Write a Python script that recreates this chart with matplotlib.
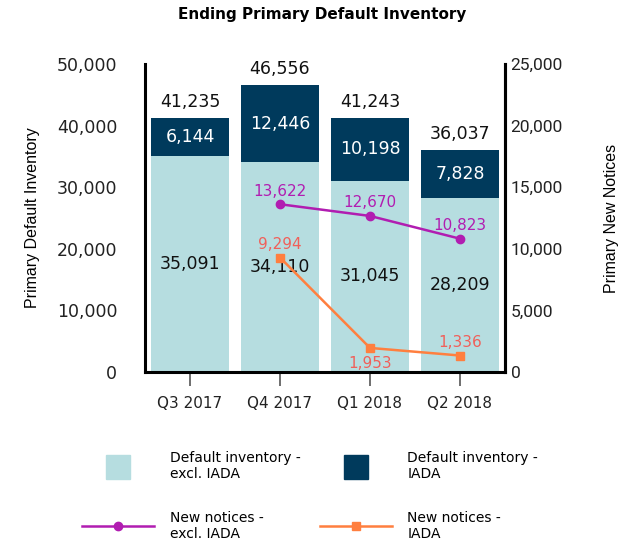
import matplotlib
matplotlib.use('Agg')
import matplotlib.pyplot as plt
from matplotlib.lines import Line2D

quarters = ['Q3 2017', 'Q4 2017', 'Q1 2018', 'Q2 2018']
inv_excl_iada = [35091, 34110, 31045, 28209]
inv_iada = [6144, 12446, 10198, 7828]
inv_total = [41235, 46556, 41243, 36037]
# new notices only reported from Q4 2017 on
notice_quarters = [1, 2, 3]
notices_excl_iada = [13622, 12670, 10823]
notices_iada = [9294, 1953, 1336]

LIGHT = '#b6dde0'
DARK = '#003a5c'
PURPLE = '#b11db1'
ORANGE = '#ff7f3f'
ORANGE_TXT = '#f0605a'

plt.rcParams['font.family'] = ['DejaVu Sans']
NARROW = ['Liberation Sans Narrow', 'Liberation Sans', 'DejaVu Sans']

fig = plt.figure(figsize=(6.31, 5.42), dpi=100)
ax = fig.add_axes([0.2298, 0.3137, 0.5705, 0.568])
x = list(range(len(quarters)))
w = 0.86

ax.bar(x, inv_excl_iada, w, color=LIGHT)
ax.bar(x, inv_iada, w, bottom=inv_excl_iada, color=DARK)

for i in x:
    ax.text(i, inv_excl_iada[i] / 2, f'{inv_excl_iada[i]:,}', ha='center', va='center',
            fontsize=12.5, color='#111111')
    ax.text(i, inv_excl_iada[i] + inv_iada[i] / 2, f'{inv_iada[i]:,}', ha='center',
            va='center', fontsize=12.5, color='white')
    ax.text(i, inv_total[i] + 1200, f'{inv_total[i]:,}', ha='center', va='bottom',
            fontsize=12.5, color='#111111')

ax.set_xlim(-0.5, 3.5)
ax.set_ylim(0, 50000)
ax.set_yticks(range(0, 50001, 10000))
ax.set_yticklabels([f'{v:,}' for v in range(0, 50001, 10000)], fontsize=12.5, color='#222222')
ax.set_xticks(x)
ax.set_xticklabels(quarters, fontsize=11, color='#222222')
ax.tick_params(axis='y', length=0, pad=20)
ax.tick_params(axis='x', length=10, width=1.2, color='#555555', pad=7)
ax.spines['top'].set_visible(False)
for s in ['left', 'bottom', 'right']:
    ax.spines[s].set_linewidth(2.2)
    ax.spines[s].set_color('black')
ax.set_ylabel('Primary Default Inventory', fontsize=11.5, family=NARROW, labelpad=12)

ax2 = ax.twinx()
ax2.set_ylim(0, 25000)
ax2.set_yticks(range(0, 25001, 5000))
ax2.set_yticklabels([f'{v:,}' for v in range(0, 25001, 5000)], fontsize=12.5,
                    family=['Roboto', 'DejaVu Sans'], color='#222222')
ax2.tick_params(axis='y', length=0, pad=4)
for s in ['top', 'left', 'bottom']:
    ax2.spines[s].set_visible(False)
ax2.spines['right'].set_linewidth(2.2)
ax2.set_ylabel('Primary New Notices', fontsize=11.5, family=NARROW, labelpad=30)

l1, = ax2.plot(notice_quarters, notices_excl_iada, color=PURPLE, lw=1.8, marker='o',
               markersize=6)
l2, = ax2.plot(notice_quarters, notices_iada, color=ORANGE, lw=1.8, marker='s',
               markersize=6)

for xi, v in zip(notice_quarters, notices_excl_iada):
    ax2.annotate(f'{v:,}', (xi, v), xytext=(0, 4), textcoords='offset points',
                 ha='center', va='bottom', fontsize=11, color=PURPLE)
iada_offsets = [4, -6, 4]
for xi, v, off in zip(notice_quarters, notices_iada, iada_offsets):
    ax2.annotate(f'{v:,}', (xi, v), xytext=(0, off), textcoords='offset points',
                 ha='center', va='bottom' if off > 0 else 'top', fontsize=11,
                 color=ORANGE_TXT)

fig.text(0.51, 0.974, 'Ending Primary Default Inventory', ha='center', va='center',
         fontsize=11, fontweight='bold')

# legend: square swatches for the bars, marker lines for the notices
sw_light = Line2D([], [], ls='none', marker='s', markersize=17, color=LIGHT)
sw_dark = Line2D([], [], ls='none', marker='s', markersize=17, color=DARK)
lg_kw = dict(frameon=False, fontsize=10, handlelength=5.2, handletextpad=1.1,
             labelspacing=2.1, loc='center left', borderaxespad=0, borderpad=0)
leg1 = fig.legend([sw_light, l1], ['Default inventory -\nexcl. IADA', 'New notices -\nexcl. IADA'],
                  bbox_to_anchor=(0.13, 0.085), **lg_kw)
leg2 = fig.legend([sw_dark, l2], ['Default inventory -\nIADA', 'New notices -\nIADA'],
                  bbox_to_anchor=(0.507, 0.085), **lg_kw)

fig.savefig('out.png', dpi=100)
